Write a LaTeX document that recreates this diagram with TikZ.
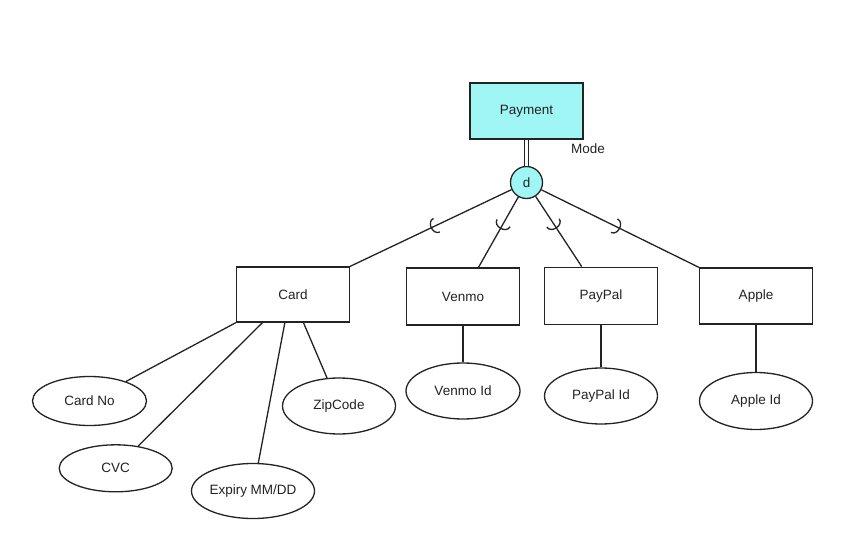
\documentclass[tikz,border=0pt]{standalone}
\usepackage{fontspec}
\setmainfont{Liberation Sans}
\usetikzlibrary{shapes.geometric,calc}
\definecolor{ink}{RGB}{35,35,35}
\definecolor{cyanfill}{RGB}{160,245,245}
\newcommand\ersubarc[1]{%
  \coordinate (P) at ($(d.center)!0.54!(#1)$);
  \coordinate (A) at ($(P)!6pt!(d.center)$);
  \coordinate (B) at ($(P)!-2pt!(d.center)$);
  \coordinate (E1) at ($(A)!7.5pt!90:(d.center)$);
  \coordinate (E2) at ($(A)!7.5pt!-90:(d.center)$);
  \draw[conn] (E1) .. controls ($(E1)+(B)-(A)$) and ($(E2)+(B)-(A)$) .. (E2);}
\begin{document}
\begin{tikzpicture}[x=1pt,y=-1pt,
  every node/.style={font=\fontsize{13.5}{15}\selectfont, text=ink},
  conn/.style={draw=ink, line width=1.3pt},
  entity/.style={draw=ink, line width=1.3pt, rectangle, inner sep=0pt, minimum width=113pt, minimum height=56pt},
  attr/.style={draw=ink, line width=1.3pt, ellipse, inner sep=0pt, minimum width=113pt, minimum height=56pt}]
\useasboundingbox (0,0) rectangle (866,537);
\fill[white] (0,0) rectangle (866,537);
% entities
\node[entity, fill=cyanfill] (pay) at (526.5,111) {Payment};
\node[entity, minimum height=55pt] (card) at (293,294.5) {Card};
\node[entity, minimum height=57pt] (venmo) at (463,296.5) {Venmo};
\node[entity, minimum height=57pt] (paypal) at (601,295.7) {PayPal};
\node[entity] (apple) at (756,296) {Apple};
% disjoint circle
\node[draw=ink, line width=1.3pt, circle, fill=cyanfill, inner sep=0pt, minimum size=32pt] (d) at (526.5,182.5) {d};
\node (mode) at (588,149) {Mode};
% attributes
\node[attr, minimum width=114pt, minimum height=49pt] (cardno) at (89.5,401) {Card No};
\node[attr, minimum height=47pt] (cvc) at (115.7,468.3) {CVC};
\node[attr, minimum height=55pt] (expiry) at (253,491) {Expiry MM/DD};
\node[attr] (zip) at (339,406) {ZipCode};
\node[attr, minimum width=114pt] (venmoid) at (463,391) {Venmo Id};
\node[attr] (paypalid) at (601,396) {PayPal Id};
\node[attr, minimum height=57pt] (appleid) at (756,401) {Apple Id};
% specialization connectors
\draw[draw=ink, line width=1.1pt, double, double distance=2.2pt] (pay.south) -- (d.north);
\coordinate (tcard) at (card.north east);
\coordinate (tvenmo) at ($(venmo.north)+(15.5,0)$);
\coordinate (tpaypal) at ($(paypal.north)+(-19.3,0)$);
\coordinate (tapple) at (apple.north west);
\draw[conn] (d) -- (tcard);
\draw[conn] (d) -- (tvenmo);
\draw[conn] (d) -- (tpaypal);
\draw[conn] (d) -- (tapple);
\ersubarc{tcard}
\ersubarc{tvenmo}
\ersubarc{tpaypal}
\ersubarc{tapple}
% attribute connectors
\draw[conn] (card.south west) -- (cardno);
\draw[conn] ($(card.south west)+(26.6,0)$) -- (cvc);
\draw[conn] ($(card.south west)+(49,0)$) -- (expiry);
\draw[conn] ($(card.south west)+(67.6,0)$) -- (zip);
\draw[conn] (venmo.south) -- (venmoid.north);
\draw[conn] (paypal.south) -- (paypalid.north);
\draw[conn] (apple.south) -- (appleid.north);
\end{tikzpicture}
\end{document}
